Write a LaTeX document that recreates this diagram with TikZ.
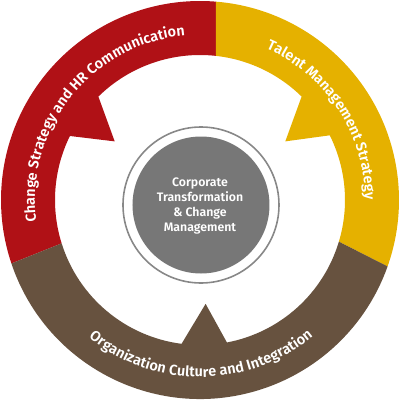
\documentclass[tikz,border=0pt]{standalone}
\usepackage{fontspec}
\setmainfont{Fira Sans}[BoldFont={Fira Sans SemiBold}]
\usetikzlibrary{decorations.text}
\definecolor{cred}{RGB}{176,17,22}
\definecolor{cyellow}{RGB}{229,177,0}
\definecolor{cbrown}{RGB}{103,82,63}
\definecolor{cgray}{RGB}{119,119,119}
\definecolor{cring}{RGB}{136,136,136}
\newcommand\ringfont{\bfseries\fontsize{14.5}{14.5}\selectfont}
\begin{document}
\begin{tikzpicture}[x=1pt,y=1pt,
  ringtext/.style={decorate, decoration={text along path, text align=center, text color=white, text={#1}}}]
\useasboundingbox (-200,-200) rectangle (200,200);
% red segment
\fill[cred] (85.4:199) arc[start angle=85.4, end angle=198.6, radius=199pt]
  -- (197.4:145) arc[start angle=197.4, end angle=153.8, radius=145pt]
  -- (145.5:103.5) -- (134.5:145) arc[start angle=134.5, end angle=83.7, radius=145pt] -- cycle;
% yellow segment
\fill[cyellow] (-19.5:199) arc[start angle=-19.5, end angle=85.4, radius=199pt]
  -- (83.7:145) arc[start angle=83.7, end angle=45.5, radius=145pt]
  -- (34.5:103.5) -- (26.5:145) arc[start angle=26.5, end angle=-16.7, radius=145pt] -- cycle;
% brown segment
\fill[cbrown] (198.6:199) arc[start angle=198.6, end angle=340.5, radius=199pt]
  -- (343.3:145) arc[start angle=343.3, end angle=280.7, radius=145pt]
  -- (273.1:104) -- (262.7:145) arc[start angle=262.7, end angle=197.4, radius=145pt] -- cycle;
% ring texts
\path[ringtext={|\ringfont|Change Strategy and HR Communication}] (201.4:165) arc[start angle=201.4, end angle=81.4, radius=165pt];
\path[ringtext={|\ringfont|Talent Management Strategy}] (93.3:165) arc[start angle=93.3, end angle=-26.7, radius=165pt];
\path[ringtext={|\ringfont|Organization Culture and Integration}] (210.4:177) arc[start angle=210.4, end angle=330.4, radius=177pt];
% centre
\draw[cring, line width=1.6pt] (1,-5) circle[radius=78pt];
\node[circle, fill=cgray, minimum size=137pt, inner sep=0pt] (core) at (1,-5) {};
\node[text=white, align=center, font=\bfseries\fontsize{12.3}{15.2}\selectfont] (coretext) at (0,-6) {Corporate\\Transformation\\\& Change\\Management};
\end{tikzpicture}
\end{document}
